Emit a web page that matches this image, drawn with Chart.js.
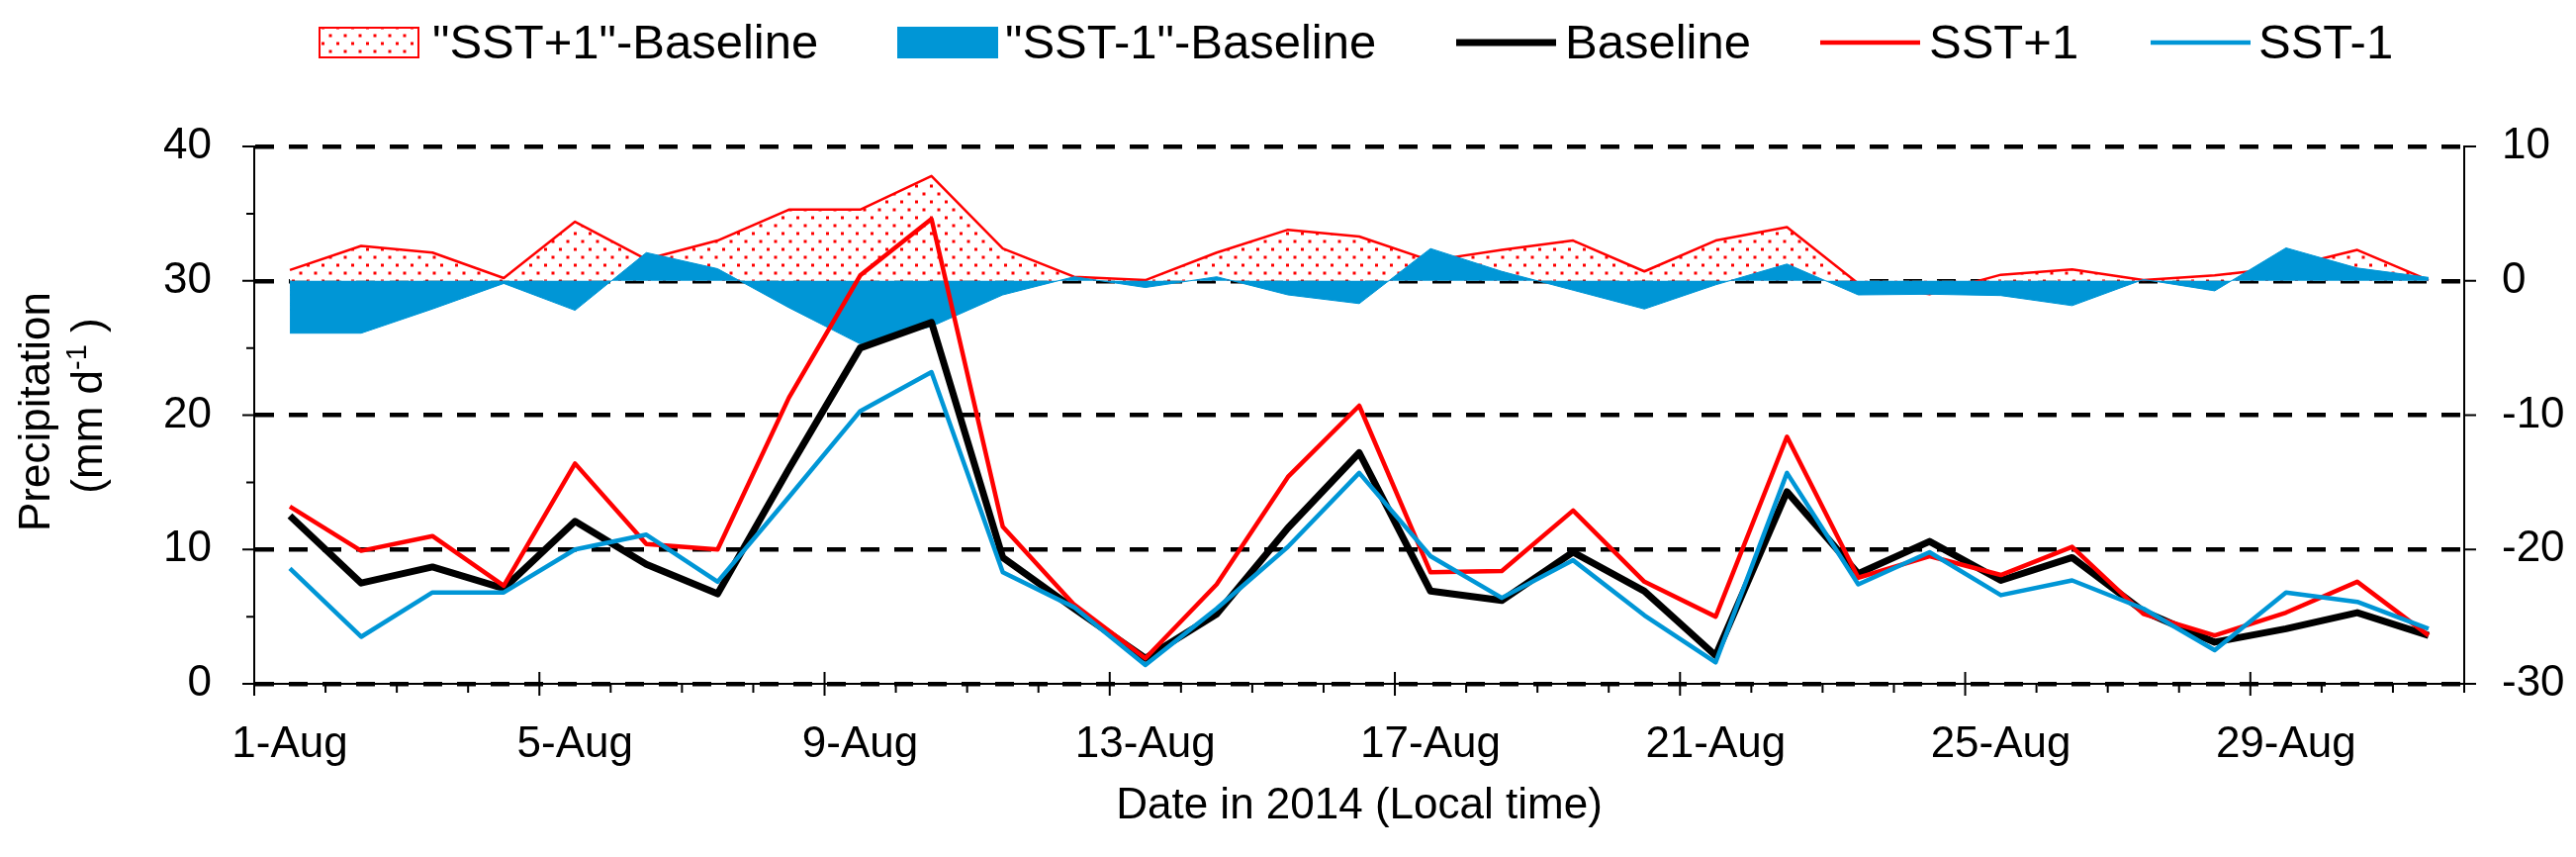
<!DOCTYPE html>
<html>
<head>
<meta charset="utf-8">
<script src="https://cdn.jsdelivr.net/npm/chart.js@4.4.1/dist/chart.umd.min.js"></script>
<style>
    html, body { margin: 0; padding: 0; background: #fff; }
    #wrap { width: 2604px; height: 866px; }
</style>
</head>
<body>
<div id="wrap"><canvas id="chart" width="2604" height="866"></canvas></div>
<script>
const days = ['1-Aug', '2-Aug', '3-Aug', '4-Aug', '5-Aug', '6-Aug', '7-Aug', '8-Aug', '9-Aug', '10-Aug',
    '11-Aug', '12-Aug', '13-Aug', '14-Aug', '15-Aug', '16-Aug', '17-Aug', '18-Aug', '19-Aug', '20-Aug',
    '21-Aug', '22-Aug', '23-Aug', '24-Aug', '25-Aug', '26-Aug', '27-Aug', '28-Aug', '29-Aug', '30-Aug', '31-Aug'];

// daily precipitation, mm/d (left axis)
const baseline = [12.5, 7.5, 8.7, 7.1, 12.1, 8.9, 6.7, 16.0, 25.0, 26.9, 9.4, 5.6, 1.9, 5.2, 11.6, 17.2,
    6.9, 6.2, 9.8, 6.9, 2.1, 14.3, 8.2, 10.6, 7.7, 9.4, 5.4, 3.1, 4.1, 5.3, 3.6];
const sstPlus1 = [13.2, 9.9, 11.0, 7.3, 16.4, 10.4, 10.0, 21.3, 30.4, 34.6, 11.7, 5.9, 1.9, 7.4, 15.4, 20.7,
    8.3, 8.4, 12.9, 7.6, 5.0, 18.4, 7.9, 9.5, 8.1, 10.2, 5.2, 3.6, 5.3, 7.6, 3.6];
const sstMinus1 = [8.6, 3.5, 6.8, 6.8, 10.0, 11.1, 7.6, 13.9, 20.3, 23.2, 8.3, 5.7, 1.4, 5.6, 10.2, 15.7,
    9.5, 6.4, 9.2, 5.1, 1.6, 15.7, 7.4, 9.8, 6.6, 7.7, 5.6, 2.5, 6.8, 6.1, 4.1];

// differences to baseline (right axis)
const plusDiff = [0.8, 2.6, 2.1, 0.2, 4.4, 1.6, 3.0, 5.3, 5.3, 7.8, 2.4, 0.3, 0.05, 2.1, 3.8, 3.3,
    1.5, 2.3, 3.0, 0.7, 3.0, 4.0, -0.2, -1.0, 0.45, 0.85, 0.05, 0.4, 1.0, 2.3, 0.05];
const minusDiff = [-3.9, -3.9, -2.1, -0.2, -2.2, 2.1, 0.9, -2.0, -4.7, -3.4, -1.05, 0.3, -0.5, 0.3, -1.05, -1.7,
    2.4, 0.7, -0.7, -2.1, -0.3, 1.25, -1.05, -1.0, -1.1, -1.85, 0.1, -0.75, 2.45, 0.95, 0.25];

const FONT = '"Liberation Sans", Arial, sans-serif';
const RED = '#ff0000';
const BLUE = '#0096d6';

const canvas = document.getElementById('chart');
const mainCtx = canvas.getContext('2d');

function dotPattern(ctx) {
    const tile = document.createElement('canvas');
    tile.width = 15;
    tile.height = 16;
    const t = tile.getContext('2d');
    t.fillStyle = '#fff';
    t.fillRect(0, 0, 15, 16);
    t.fillStyle = RED;
    t.fillRect(2.5, 2.5, 3, 3);
    t.fillRect(10, 10.5, 3, 3);
    return ctx.createPattern(tile, 'repeat');
}
const dots = dotPattern(mainCtx);

// tick marks, axis titles and legend, Excel style
const decor = {
    id: 'decor',
    afterDraw(chart) {
        const {ctx, chartArea: a, scales: {x, y, y1}} = chart;
        ctx.save();
        ctx.strokeStyle = '#000';
        ctx.lineWidth = 2;
        ctx.beginPath();
        for (let v = 0; v <= 40; v += 5) {
            const py = y.getPixelForValue(v);
            ctx.moveTo(a.left - (v % 10 === 0 ? 12 : 8), py);
            ctx.lineTo(a.left, py);
        }
        for (let v = -30; v <= 10; v += 10) {
            const py = y1.getPixelForValue(v);
            ctx.moveTo(a.right, py);
            ctx.lineTo(a.right + 12, py);
        }
        for (let i = 0; i <= days.length; i++) {
            const px = x.getPixelForValue(i - 0.5);
            const major = i % 4 === 0;
            ctx.moveTo(px, a.bottom - (major ? 12 : 0));
            ctx.lineTo(px, a.bottom + (major ? 12 : 9));
        }
        ctx.stroke();

        // axis titles
        ctx.fillStyle = '#000';
        ctx.font = `44px ${FONT}`;
        ctx.textAlign = 'center';
        ctx.textBaseline = 'alphabetic';
        ctx.fillText('Date in 2014 (Local time)', (a.left + a.right) / 2, 827);

        ctx.save();
        ctx.translate(50, 416);
        ctx.rotate(-Math.PI / 2);
        ctx.fillText('Precipitation', 0, 0);
        ctx.restore();

        ctx.save();
        ctx.translate(103, 410);
        ctx.rotate(-Math.PI / 2);
        ctx.textAlign = 'left';
        const big = `44px ${FONT}`, small = `29px ${FONT}`;
        ctx.font = big;
        const w1 = ctx.measureText('(mm d').width;
        const w3 = ctx.measureText(' )').width;
        ctx.font = small;
        const w2 = ctx.measureText('-1').width;
        let sx = -(w1 + w2 + w3) / 2;
        ctx.font = big;
        ctx.fillText('(mm d', sx, 0);
        sx += w1;
        ctx.font = small;
        ctx.fillText('-1', sx, -16);
        sx += w2;
        ctx.font = big;
        ctx.fillText(' )', sx, 0);
        ctx.restore();

        // legend
        const items = [
            {ds: 0, kind: 'box', x: 323, tx: 437},
            {ds: 1, kind: 'box', x: 908, tx: 1016},
            {ds: 2, kind: 'line', x: 1472, tx: 1582},
            {ds: 3, kind: 'line', x: 1840, tx: 1950},
            {ds: 4, kind: 'line', x: 2174, tx: 2283},
        ];
        items.forEach(item => {
            const ds = chart.data.datasets[item.ds];
            if (item.kind === 'box') {
                ctx.fillStyle = ds.backgroundColor;
                ctx.fillRect(item.x, 28, 100, 30);
                ctx.strokeStyle = ds.borderColor;
                ctx.lineWidth = 2;
                ctx.strokeRect(item.x, 28, 100, 30);
            } else {
                ctx.strokeStyle = ds.borderColor;
                ctx.lineWidth = ds.borderWidth;
                ctx.beginPath();
                ctx.moveTo(item.x, 43);
                ctx.lineTo(item.x + 101, 43);
                ctx.stroke();
            }
            ctx.fillStyle = '#000';
            ctx.font = `49px ${FONT}`;
            ctx.textAlign = 'left';
            ctx.fillText(ds.label, item.tx, 59);
        });
        ctx.restore();
    }
};

new Chart(canvas, {
    type: 'line',
    data: {
        labels: days,
        datasets: [
            {
                label: '"SST+1"-Baseline',
                data: plusDiff,
                yAxisID: 'y1',
                fill: 'origin',
                backgroundColor: dots,
                borderColor: RED,
                borderWidth: 2.5,
                order: 5
            },
            {
                label: '"SST-1"-Baseline',
                data: minusDiff,
                yAxisID: 'y1',
                fill: 'origin',
                backgroundColor: BLUE,
                borderColor: BLUE,
                borderWidth: 1,
                order: 4
            },
            {
                label: 'Baseline',
                data: baseline,
                yAxisID: 'y',
                borderColor: '#000',
                borderWidth: 7,
                order: 3
            },
            {
                label: 'SST+1',
                data: sstPlus1,
                yAxisID: 'y',
                borderColor: RED,
                borderWidth: 4.5,
                order: 2
            },
            {
                label: 'SST-1',
                data: sstMinus1,
                yAxisID: 'y',
                borderColor: BLUE,
                borderWidth: 4.5,
                order: 1
            }
        ]
    },
    options: {
        responsive: false,
        animation: false,
        devicePixelRatio: 1,
        layout: {padding: {top: 148, left: 0, right: 0, bottom: 0}},
        elements: {
            line: {tension: 0, borderJoinStyle: 'round'},
            point: {radius: 0, hoverRadius: 0}
        },
        plugins: {
            legend: {display: false},
            tooltip: {enabled: false}
        },
        scales: {
            x: {
                type: 'category',
                offset: true,
                grid: {display: false, drawTicks: false},
                border: {display: true, color: '#000', width: 2},
                ticks: {
                    autoSkip: false,
                    maxRotation: 0,
                    minRotation: 0,
                    padding: 35,
                    color: '#000',
                    font: {family: FONT, size: 44},
                    callback: (value, index) => index % 4 === 0 ? days[index] : ''
                },
                afterFit: scale => { scale.height = 175; }
            },
            y: {
                position: 'left',
                min: 0,
                max: 40,
                ticks: {stepSize: 10, padding: 43, color: '#000', font: {family: FONT, size: 44}},
                grid: {color: '#000', lineWidth: 4.5, drawTicks: false},
                border: {display: true, color: '#000', width: 2, dash: [19, 15]},
                afterFit: scale => { scale.width = 257; }
            },
            y1: {
                position: 'right',
                min: -30,
                max: 10,
                ticks: {stepSize: 10, padding: 38, color: '#000', font: {family: FONT, size: 44}},
                grid: {display: false, drawTicks: false},
                border: {display: true, color: '#000', width: 2},
                afterFit: scale => { scale.width = 113; }
            }
        }
    },
    plugins: [decor]
});
</script>
</body>
</html>
